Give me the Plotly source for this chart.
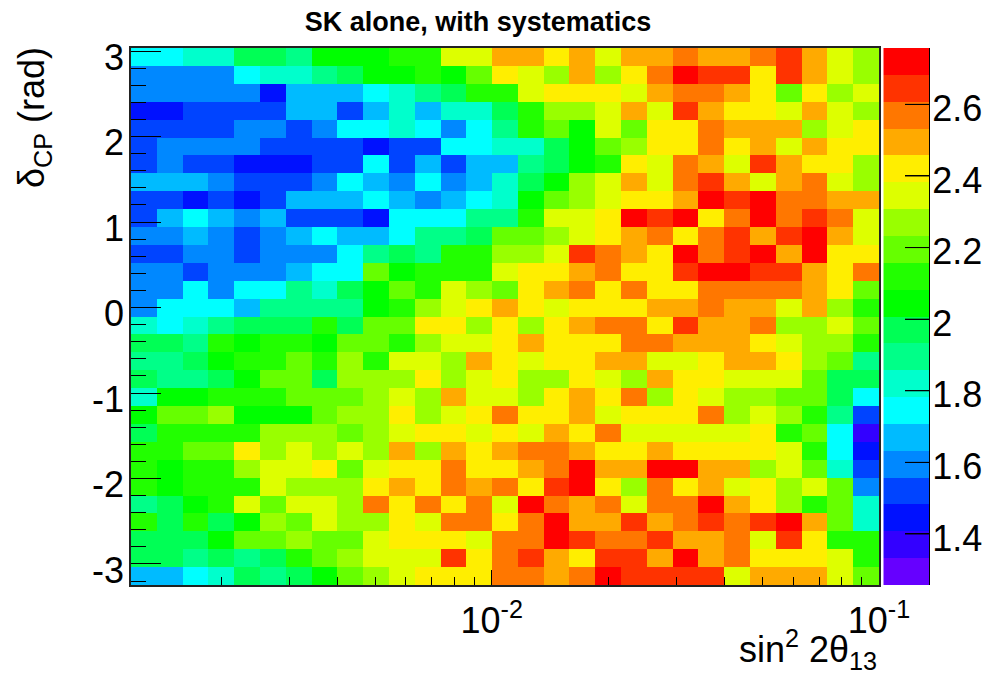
import numpy as np
import plotly.graph_objects as go

title_text = "SK alone, with systematics"
x_low = 0.00117
x_high = 0.1
n_x_bins = 29
y_low = -3.2467
y_high = 3.0369
n_y_bins = 30
z_low = 1.2575
z_high = 2.7575

band_colors = ["#6600FF", "#3300FF", "#0011FF", "#0044FF", "#0088FF", "#00BBFF", "#00FFFF",
               "#00FFCC", "#00FF88", "#00FF55", "#00FF00", "#22FF00", "#66FF00", "#99FF00",
               "#DDFF00", "#FFEE00", "#FFAA00", "#FF7700", "#FF3300", "#FF0000"]

y_tick_values = [-3, -2, -1, 0, 1, 2, 3]
y_tick_labels = ["-3", "-2", "-1", "0", "1", "2", "3"]
x_tick_values = [0.01, 0.1]
x_tick_labels = ["10<sup>-2</sup>", "10<sup>-1</sup>"]
x_minor_values = [0.002, 0.003, 0.004, 0.005, 0.006, 0.007, 0.008, 0.009,
                  0.02, 0.03, 0.04, 0.05, 0.06, 0.07, 0.08, 0.09]
cbar_tick_values = [1.4, 1.6, 1.8, 2.0, 2.2, 2.4, 2.6]
cbar_tick_labels = ["1.4", "1.6", "1.8", "2", "2.2", "2.4", "2.6"]

# chi-square style values per bin, listed from the top row to the bottom row
z_rows = [
    [1.75,1.75,1.82,1.82,1.97,1.97,1.90,2.05,2.05,2.05,2.12,2.12,2.35,2.35,2.50,2.50,2.42,2.50,2.35,2.50,2.50,2.57,2.50,2.50,2.57,2.65,2.50,2.35,2.27],
    [1.60,1.60,1.60,1.60,1.75,1.82,1.82,1.90,1.97,2.05,2.05,2.12,2.05,2.20,2.42,2.35,2.27,2.50,2.27,2.42,2.57,2.72,2.65,2.65,2.42,2.65,2.50,2.35,2.27],
    [1.60,1.60,1.60,1.60,1.60,1.45,1.67,1.67,1.67,1.75,1.82,1.90,1.97,2.12,2.12,2.35,2.42,2.42,2.42,2.35,2.50,2.57,2.57,2.50,2.42,2.20,2.42,2.27,2.35],
    [1.45,1.45,1.52,1.52,1.52,1.52,1.67,1.67,1.52,1.67,1.82,1.67,1.82,1.82,1.97,2.12,2.27,2.27,2.35,2.50,2.35,2.65,2.50,2.42,2.42,2.35,2.50,2.35,2.27],
    [1.52,1.52,1.52,1.52,1.60,1.60,1.52,1.60,1.75,1.75,1.82,1.75,1.60,1.75,1.90,2.12,2.20,2.05,2.35,2.20,2.42,2.42,2.57,2.50,2.50,2.50,2.27,2.35,2.42],
    [1.52,1.60,1.60,1.60,1.60,1.52,1.52,1.52,1.52,1.45,1.52,1.52,1.75,1.75,1.82,1.82,1.97,2.05,2.20,2.27,2.42,2.42,2.57,2.42,2.50,2.35,2.50,2.42,2.42],
    [1.52,1.60,1.52,1.52,1.45,1.45,1.45,1.52,1.52,1.75,1.52,1.67,1.52,1.67,1.67,1.90,1.97,2.05,2.12,2.42,2.35,2.57,2.50,2.35,2.65,2.50,2.42,2.42,2.27],
    [1.67,1.67,1.67,1.60,1.52,1.52,1.52,1.60,1.75,1.67,1.60,1.75,1.60,1.67,1.82,1.97,2.05,2.27,2.35,2.50,2.35,2.57,2.65,2.50,2.35,2.50,2.57,2.35,2.27],
    [1.52,1.52,1.45,1.52,1.45,1.52,1.67,1.67,1.67,1.75,1.67,1.60,1.67,1.75,1.82,2.05,2.20,2.27,2.35,2.42,2.42,2.50,2.72,2.65,2.72,2.57,2.57,2.50,2.50],
    [1.52,1.67,1.75,1.67,1.60,1.67,1.52,1.52,1.52,1.45,1.75,1.75,1.75,1.90,1.90,2.12,2.35,2.35,2.42,2.72,2.65,2.72,2.42,2.57,2.72,2.57,2.65,2.57,2.35],
    [1.60,1.60,1.67,1.60,1.52,1.60,1.67,1.75,1.67,1.67,1.75,1.90,1.90,1.97,2.20,2.20,2.27,2.35,2.42,2.50,2.57,2.42,2.57,2.65,2.50,2.65,2.72,2.50,2.35],
    [1.52,1.52,1.60,1.60,1.52,1.60,1.60,1.60,1.75,1.90,1.97,1.90,2.12,2.12,2.27,2.27,2.35,2.65,2.57,2.50,2.42,2.72,2.57,2.65,2.72,2.50,2.72,2.42,2.42],
    [1.60,1.60,1.52,1.60,1.60,1.60,1.67,1.75,1.75,2.20,2.05,2.12,2.12,2.12,2.35,2.42,2.42,2.50,2.57,2.42,2.42,2.65,2.72,2.72,2.65,2.65,2.50,2.42,2.57],
    [1.60,1.60,1.75,1.60,1.75,1.75,1.90,1.82,1.97,2.05,2.20,2.12,2.35,2.27,2.20,2.42,2.50,2.57,2.42,2.57,2.42,2.42,2.57,2.57,2.57,2.57,2.50,2.42,2.20],
    [1.60,1.75,1.75,1.75,1.67,1.90,1.90,1.90,1.90,2.05,2.12,2.27,2.35,2.42,2.50,2.42,2.35,2.42,2.42,2.42,2.50,2.50,2.57,2.50,2.50,2.35,2.50,2.27,2.12],
    [1.82,1.75,1.82,1.90,1.97,1.97,1.97,2.12,1.97,2.20,2.20,2.42,2.42,2.27,2.42,2.27,2.42,2.50,2.57,2.57,2.42,2.65,2.50,2.50,2.57,2.27,2.27,2.35,2.20],
    [1.97,1.97,1.90,2.12,2.05,2.12,2.12,2.05,2.20,2.20,2.12,2.27,2.35,2.35,2.42,2.50,2.42,2.42,2.42,2.57,2.57,2.50,2.50,2.50,2.42,2.35,2.27,2.27,2.12],
    [1.90,1.90,1.97,2.05,2.12,2.12,2.20,2.12,2.27,2.12,2.35,2.35,2.27,2.50,2.42,2.35,2.42,2.42,2.50,2.50,2.35,2.35,2.42,2.50,2.50,2.42,2.27,2.20,1.90],
    [1.97,1.90,1.90,1.97,2.05,2.20,2.20,1.97,2.27,2.27,2.27,2.42,2.27,2.35,2.42,2.27,2.27,2.42,2.35,2.27,2.50,2.42,2.42,2.35,2.35,2.35,2.20,1.97,1.97],
    [1.82,2.05,2.05,2.12,2.12,2.12,2.20,2.20,2.20,2.27,2.35,2.27,2.50,2.35,2.35,2.27,2.42,2.50,2.42,2.57,2.27,2.42,2.35,2.27,2.27,2.20,2.20,1.97,1.75],
    [2.05,2.20,2.20,2.27,2.05,2.05,2.05,2.20,2.27,2.27,2.42,2.27,2.35,2.42,2.57,2.42,2.42,2.50,2.35,2.42,2.42,2.42,2.57,2.27,2.35,2.27,2.12,1.90,1.52],
    [1.97,2.12,2.12,2.12,2.12,2.27,2.27,2.27,2.20,2.27,2.35,2.42,2.42,2.35,2.42,2.35,2.50,2.42,2.57,2.35,2.35,2.35,2.35,2.35,2.42,2.12,2.20,1.75,1.37],
    [2.12,2.12,2.20,2.20,2.42,2.27,2.35,2.27,2.35,2.27,2.50,2.27,2.50,2.42,2.50,2.57,2.57,2.50,2.42,2.42,2.50,2.42,2.42,2.42,2.42,2.35,2.12,1.75,1.45],
    [2.12,2.05,2.12,2.12,2.27,2.35,2.35,2.42,2.20,2.35,2.42,2.42,2.57,2.42,2.42,2.50,2.57,2.72,2.50,2.50,2.72,2.72,2.50,2.50,2.27,2.35,2.20,1.82,1.52],
    [2.12,2.05,2.12,2.12,2.12,2.35,2.27,2.27,2.27,2.42,2.50,2.42,2.57,2.50,2.57,2.42,2.65,2.72,2.42,2.27,2.57,2.42,2.50,2.35,2.42,2.27,2.35,2.20,1.60],
    [1.90,1.97,2.05,2.12,2.35,2.20,2.35,2.35,2.27,2.57,2.42,2.57,2.42,2.57,2.35,2.72,2.57,2.50,2.57,2.35,2.57,2.57,2.72,2.50,2.42,2.27,2.12,2.20,1.82],
    [2.12,1.97,2.12,1.97,2.05,2.27,2.20,2.35,2.27,2.27,2.42,2.35,2.57,2.57,2.42,2.57,2.72,2.50,2.50,2.65,2.50,2.57,2.65,2.57,2.65,2.72,2.50,2.20,1.82],
    [1.97,1.97,1.97,2.05,2.20,2.20,2.27,2.20,2.20,2.35,2.42,2.42,2.42,2.35,2.57,2.57,2.72,2.65,2.57,2.57,2.65,2.50,2.50,2.57,2.35,2.65,2.42,2.12,2.12],
    [1.97,1.97,1.90,1.97,1.90,1.97,2.12,2.20,2.27,2.35,2.35,2.35,2.65,2.42,2.57,2.65,2.50,2.42,2.65,2.65,2.50,2.72,2.50,2.57,2.42,2.42,2.42,2.35,2.12],
    [1.67,1.67,1.75,1.82,1.97,1.90,1.97,2.05,2.20,2.27,2.35,2.42,2.42,2.42,2.57,2.57,2.50,2.57,2.72,2.65,2.65,2.65,2.65,2.35,2.50,2.50,2.50,2.35,2.20],
]

x_edges = np.logspace(np.log10(x_low), np.log10(x_high), n_x_bins + 1)
y_edges = np.linspace(y_low, y_high, n_y_bins + 1)

n_bands = len(band_colors)
colorscale = []
for i, c in enumerate(band_colors):
    colorscale.append([i / n_bands, c])
    colorscale.append([(i + 1) / n_bands, c])

key_edges = np.linspace(z_low, z_high, n_bands + 1)
key_z = [[(a + b) / 2] for a, b in zip(key_edges[:-1], key_edges[1:])]

FONT = "Liberation Sans"
L, T, B = 131, 48, 91
W, H = 984, 676
PH = H - T - B

fig = go.Figure()
fig.add_trace(go.Heatmap(
    x=x_edges, y=y_edges, z=z_rows[::-1], xaxis="x", yaxis="y",
    zmin=z_low, zmax=z_high, colorscale=colorscale, zsmooth=False, showscale=False,
))
fig.add_trace(go.Heatmap(
    x=[0, 1], y=key_edges, z=key_z, xaxis="x2", yaxis="y2",
    zmin=z_low, zmax=z_high, colorscale=colorscale, zsmooth=False, showscale=False,
))
# colour-key tick marks, drawn on top of the key from its own tick values
key_tick_x, key_tick_y = [], []
for v in cbar_tick_values:
    key_tick_x += [0.475, 1, None]
    key_tick_y += [v, v, None]
fig.add_trace(go.Scatter(
    x=key_tick_x, y=key_tick_y, xaxis="x2", yaxis="y2", mode="lines",
    line=dict(color="black", width=1), showlegend=False, hoverinfo="skip",
))

fig.update_layout(
    width=W, height=H, autosize=False, showlegend=False,
    margin=dict(l=0, r=0, t=T, b=B, pad=0, autoexpand=False),
    paper_bgcolor="white", plot_bgcolor="white",
    title=dict(text=title_text, x=478 / W, xanchor="center", y=1 - 22 / H, yanchor="middle",
               font=dict(family=FONT, size=27, color="black", weight=700)),
    xaxis=dict(domain=[L / W, 879 / W], anchor="y",
               type="log", range=[np.log10(x_low), np.log10(x_high)],
               tickmode="array", tickvals=x_tick_values, ticktext=x_tick_labels,
               ticks="inside", ticklen=15, tickwidth=1, tickcolor="black",
               minor=dict(tickmode="array", tickvals=x_minor_values, ticks="inside",
                          ticklen=8, tickwidth=1, tickcolor="black", showgrid=False),
               showgrid=False, zeroline=False, showline=True, mirror=True,
               linecolor="#222222", linewidth=1.5, ticklabelstandoff=3,
               tickfont=dict(family=FONT, size=36, color="black")),
    yaxis=dict(anchor="x", range=[y_low, y_high],
               tickmode="array", tickvals=y_tick_values, ticktext=y_tick_labels,
               ticks="inside", ticklen=30, tickwidth=1, tickcolor="black",
               minor=dict(dtick=0.2, ticks="inside", ticklen=15, tickwidth=1,
                          tickcolor="black", showgrid=False),
               showgrid=False, zeroline=False, showline=True, mirror=True,
               linecolor="#222222", linewidth=1.5, ticklabelstandoff=-2,
               ticklabelshift=6,
               tickfont=dict(family=FONT, size=36, color="black")),
    xaxis2=dict(domain=[883.3 / W, 929 / W], anchor="y2", range=[0, 1], visible=False),
    yaxis2=dict(anchor="x2", side="right", range=[z_low, z_high],
                tickmode="array", tickvals=cbar_tick_values, ticktext=cbar_tick_labels,
                ticks="inside", ticklen=24, tickwidth=1, tickcolor="black",
                showgrid=False, zeroline=False, showline=True, linecolor="black", linewidth=1,
                ticklabelstandoff=-5, ticklabelshift=4,
                tickfont=dict(family=FONT, size=36, color="black")),
    annotations=[
        dict(text="sin<sup>2</sup> 2θ<sub>13</sub>", xref="paper", yref="paper",
             x=879 / W, xanchor="right", y=-64 / PH, yanchor="middle", showarrow=False,
             font=dict(family=FONT, size=36, color="black")),
        dict(text="δ<sub>CP</sub> (rad)", xref="paper", yref="paper", textangle=-90,
             x=34 / W, xanchor="center", y=(585 - 118) / PH, yanchor="middle", showarrow=False,
             font=dict(family=FONT, size=36, color="black")),
    ],
)

fig.write_html("out.html", config=dict(displayModeBar=False),
               post_script="document.body.style.margin='0';document.body.style.overflow='hidden';")
